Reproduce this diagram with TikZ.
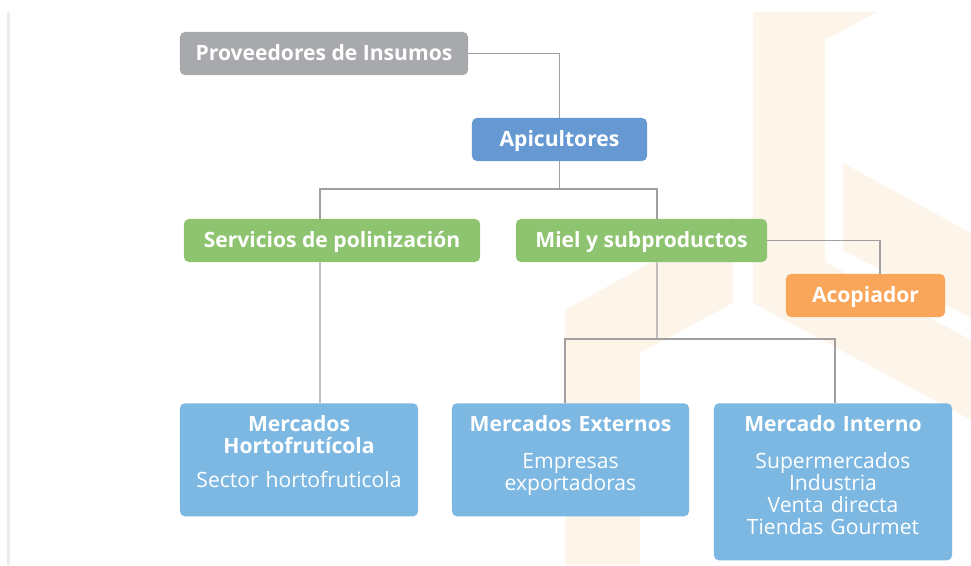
\documentclass[tikz,border=0pt]{standalone}
\usepackage{fontspec}
\setmainfont{Open Sans}
\usepackage{tikz}

\definecolor{gris}{RGB}{167,169,172}
\definecolor{azul}{RGB}{102,153,210}
\definecolor{verde}{RGB}{142,196,112}
\definecolor{naranja}{RGB}{249,166,90}
\definecolor{celeste}{RGB}{125,184,226}
\definecolor{linea}{RGB}{160,160,162}
\definecolor{marca}{RGB}{253,245,234}

\begin{document}
\begin{tikzpicture}[x=0.025cm,y=-0.025cm,
  caja/.style={rectangle,rounded corners=3.5pt,inner sep=0pt,text=white,
    font=\fontsize{15}{15.6}\selectfont\bfseries,minimum height=1.075cm,
    text height=10.5pt,text depth=0.5pt},
  mercado/.style={rectangle,rounded corners=3.5pt,fill=celeste,text=white,anchor=north,
    inner sep=0pt,align=center,font=\fontsize{15}{15.6}\selectfont,text height=0.7cm},
  conector/.style={draw=linea,line width=1pt}]

\useasboundingbox (0,0) rectangle (971,565);

% fondo
\fill[marca] (565,310) -- (733,217) -- (733,303) -- (640,353) -- (640,565) -- (565,565) -- cycle;
\fill[marca] (753,12) -- (877,12) -- (825,40) -- (825,262) -- (971,340) -- (971,420) -- (753,303) -- cycle;
\fill[marca] (843,163) -- (971,233) -- (971,318) -- (843,250) -- cycle;
\draw[gray!15,line width=1.5pt] (8.5,12) -- (8.5,565);

\node[caja,fill=gris,minimum width=7.2cm] (prov) at (324,53.5) {Proveedores de Insumos};
\node[caja,fill=azul,minimum width=4.375cm] (api) at (559.5,139.5) {Apicultores};

\node[caja,fill=verde,minimum width=7.4cm] (serv) at (332,240.5) {Servicios de polinización};
\node[caja,fill=verde,minimum width=6.275cm] (miel) at (641.5,240.5) {Miel y subproductos};
\node[caja,fill=naranja,minimum width=3.975cm] (acop) at (865.5,295.5) {Acopiador};

\node[mercado,text width=5.95cm,text depth=2.125cm] (horto) at (299,403)
  {\textbf{Mercados}\\ \textbf{Hortofrutícola}\\[9pt] Sector hortofruticola};
\node[mercado,text width=5.925cm,text depth=2.125cm] (ext) at (570.5,403)
  {\textbf{Mercados Externos}\\[11pt] Empresas\\ exportadoras};
\node[mercado,text width=5.95cm,text depth=3.225cm] (int) at (833,403)
  {\textbf{Mercado Interno}\\[11pt] Supermercados\\ Industria\\ Venta directa\\ Tiendas Gourmet};

\coordinate (j1) at (559.5,189);
\coordinate (j2) at (657,339);

\draw[conector] (prov.east) -| (api.north);
\draw[conector] (api.south) -- (j1);
\draw[conector] ([xshift=-0.3cm]serv.north) |- (j1) -| ([xshift=0.3875cm]miel.north);
\draw[conector] (miel.east) -| ([xshift=0.3625cm]acop.north);
\draw[conector] ([xshift=-0.3cm]serv.south) -- ([xshift=0.525cm]horto.north);
\draw[conector] ([xshift=0.3875cm]miel.south) -- (j2);
\draw[conector] ([xshift=-0.1375cm]ext.north) |- (j2) -| ([xshift=0.05cm]int.north);

\end{tikzpicture}
\end{document}
